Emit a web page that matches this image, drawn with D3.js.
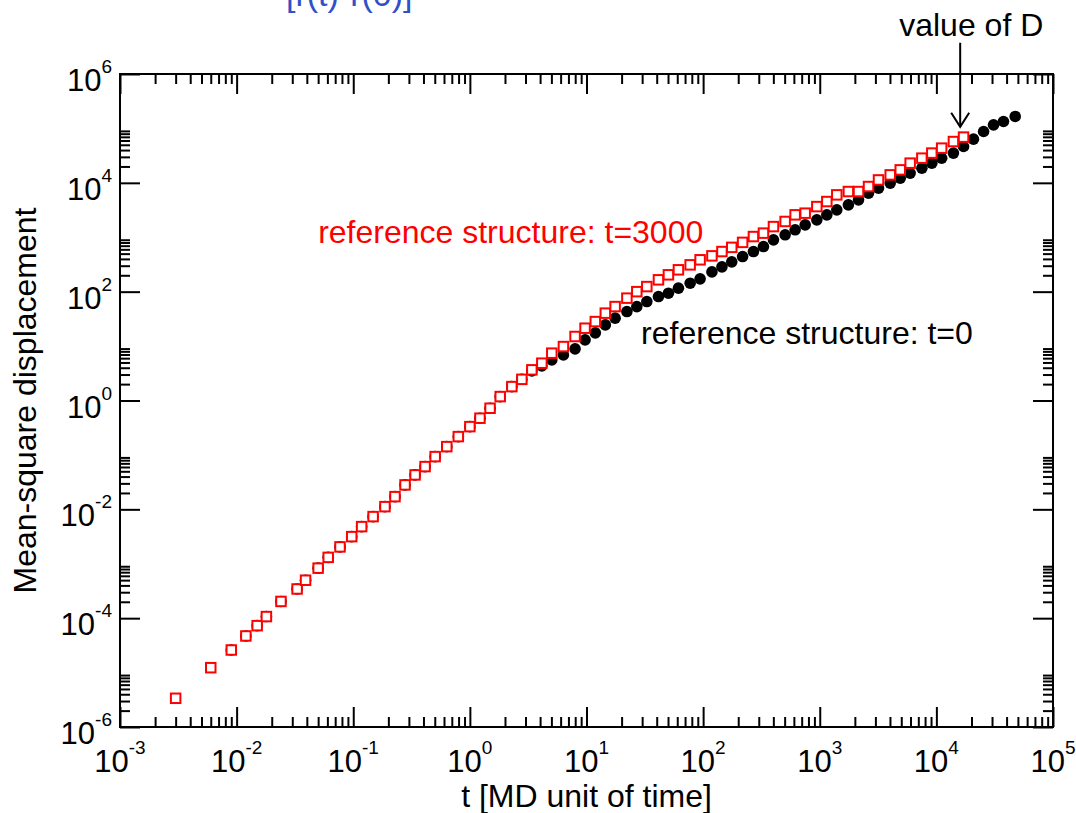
<!DOCTYPE html>
<html lang="en">
<head>
    <meta charset="UTF-8">
    <title>msd_loglog</title>
    <script src="https://d3js.org/d3.v7.min.js"></script>
    <style>
        body { margin: 0; background: #ffffff; }
        svg text { font-family: "Liberation Sans", Arial, Helvetica, sans-serif; }
    </style>
</head>

<body>
    <div id="msd_plot"></div>

    <script>
        // time points of the t=3000 run (red squares), MD units
        var t3000 = [0.003, 0.006, 0.009, 0.012, 0.015, 0.018, 0.024, 0.033, 0.039, 0.05,
            0.061, 0.077, 0.097, 0.118, 0.148, 0.187, 0.228, 0.278, 0.339, 0.413,
            0.504, 0.634, 0.796, 1.0, 1.22, 1.49, 1.82, 2.29, 2.79, 3.40,
            4.14, 5.04, 6.34, 7.98, 9.72, 11.9, 14.5, 17.6, 22.2, 27.0,
            32.9, 41.4, 50.4, 61.4, 77.4, 94.2, 119, 145, 176, 218,
            270, 329, 401, 505, 615, 750, 944, 1150, 1400, 1760,
            2150, 2620, 3190, 4020, 4900, 5960, 7510, 9140, 11100, 14000, 17100];
        var msd3000 = [3.37e-6, 1.23e-5, 2.60e-5, 4.71e-5, 7.28e-5, 1.07e-4, 2.03e-4, 3.44e-4, 4.98e-4, 8.30e-4,
            1.31e-3, 2.04e-3, 3.15e-3, 4.81e-3, 7.35e-3, 0.0112, 0.0171, 0.0281, 0.0429, 0.0610,
            0.0931, 0.142, 0.217, 0.331, 0.473, 0.721, 1.18, 1.80, 2.45, 3.66,
            4.85, 7.41, 9.80, 15.0, 21.3, 28.2, 40.3, 53.2, 76.0, 100,
            124, 165, 204, 252, 311, 385, 455, 546, 652, 805,
            1030, 1190, 1570, 1950, 2580, 2770, 3660, 4530, 6010, 6920,
            6920, 8550, 11300, 14000, 17300, 23000, 28400, 35200, 43400, 57400, 69200];

        // time points of the t=0 run (black circles)
        var t0 = [0.009, 0.012, 0.015, 0.018, 0.024, 0.033, 0.039, 0.05,
            0.061, 0.077, 0.097, 0.118, 0.148, 0.187, 0.228, 0.278, 0.339, 0.413,
            0.504, 0.634, 0.796, 1.0, 1.22, 1.49, 1.82, 2.29, 2.79, 3.40,
            4.14, 5.04, 6.34, 7.98, 9.72, 11.9, 14.5, 17.6, 22.2, 27.0,
            32.9, 41.4, 50.4, 61.4, 77.4, 94.2, 119, 145, 176, 218,
            270, 329, 401, 505, 615, 750, 944, 1150, 1400, 1760,
            2150, 2620, 3190, 4020, 4900, 5960, 7510, 9140, 11100, 14000, 17100,
            20800, 25400, 30900, 37600, 47400];
        var msd0 = [2.60e-5, 4.71e-5, 7.28e-5, 1.07e-4, 2.03e-4, 3.44e-4, 4.98e-4, 8.30e-4,
            1.31e-3, 2.04e-3, 3.15e-3, 4.81e-3, 7.35e-3, 0.0112, 0.0171, 0.0281, 0.0429, 0.0610,
            0.0931, 0.142, 0.217, 0.331, 0.473, 0.721, 1.18, 1.80, 2.45, 3.50,
            4.33, 5.57, 6.89, 8.89, 13.0, 17.5, 24.5, 32.6, 43.1, 53.2,
            65.8, 81.3, 93.8, 116, 143, 172, 231, 286, 353, 442,
            546, 675, 896, 1110, 1370, 1690, 2090, 2580, 3190, 3940,
            4870, 6470, 8000, 9880, 12200, 15100, 18600, 23000, 28400, 35200, 46500,
            63500, 87700, 116000, 134000, 166000];

        // tick label exponents
        var xTickExp = [-3, -2, -1, 0, 1, 2, 3, 4, 5];
        var yTickExp = [-6, -4, -2, 0, 2, 4, 6];

        // set the dimensions and margins of the graph
        var margin = {top: 74, right: 23, bottom: 86, left: 120},
            width = 1076 - margin.left - margin.right,
            height = 813 - margin.top - margin.bottom;

        var root = d3.select("#msd_plot")
            .append("svg")
            .attr("width", 1076)
            .attr("height", 813);

        var svg = root.append("g")
            .attr("transform", "translate(" + margin.left + "," + margin.top + ")");

        var x = d3.scaleLog().domain([1e-3, 1e5]).range([0, width]);
        var y = d3.scaleLog().domain([1e-6, 1e6]).range([height, 0]);

        // major / minor tick values
        var xMajor = xTickExp.map(function(e) { return Math.pow(10, e); });
        var yMajor = yTickExp.map(function(e) { return Math.pow(10, e); });
        var xMinor = [], yMinor = [];
        xTickExp.slice(0, -1).forEach(function(e) {
            for (var m = 2; m <= 9; m++) xMinor.push(m * Math.pow(10, e));
        });
        // y minor ticks only in the decade right above each labelled power
        yTickExp.slice(0, -1).forEach(function(e) {
            for (var m = 2; m <= 9; m++) yMinor.push(m * Math.pow(10, e));
        });

        function styleAxis(g) {
            g.select(".domain").remove();
            g.selectAll("line").attr("stroke", "#000").attr("stroke-width", 2);
        }

        // inward ticks on all four sides
        var sides = [
            {axis: d3.axisBottom, scale: x, major: xMajor, minor: xMinor, tr: "translate(0," + height + ")"},
            {axis: d3.axisTop, scale: x, major: xMajor, minor: xMinor, tr: "translate(0,0)"},
            {axis: d3.axisLeft, scale: y, major: yMajor, minor: yMinor, tr: "translate(0,0)"},
            {axis: d3.axisRight, scale: y, major: yMajor, minor: yMinor, tr: "translate(" + width + ",0)"}
        ];
        sides.forEach(function(s) {
            svg.append("g").attr("transform", s.tr)
                .call(s.axis(s.scale).tickValues(s.major).tickSize(-20).tickSizeOuter(0).tickFormat(""))
                .call(styleAxis);
            svg.append("g").attr("transform", s.tr)
                .call(s.axis(s.scale).tickValues(s.minor).tickSize(-10).tickSizeOuter(0).tickFormat(""))
                .call(styleAxis);
        });

        // frame
        svg.append("rect")
            .attr("width", width)
            .attr("height", height)
            .attr("fill", "none")
            .attr("stroke", "#000")
            .attr("stroke-width", 2);

        // tick labels 10^n
        svg.selectAll(".xlab")
            .data(xTickExp)
            .enter()
            .append("text")
            .attr("class", "xlab")
            .attr("x", function(d) { return x(Math.pow(10, d)); })
            .attr("y", height + 45)
            .attr("text-anchor", "middle")
            .each(function(d) {
                var t = d3.select(this);
                t.append("tspan").style("font-size", "31px").text("10");
                t.append("tspan").attr("dy", -18).style("font-size", "19px").text(d);
            });

        svg.selectAll(".ylab")
            .data(yTickExp)
            .enter()
            .append("text")
            .attr("class", "ylab")
            .attr("x", -8)
            .attr("y", function(d) { return y(Math.pow(10, d)) + 17; })
            .attr("text-anchor", "end")
            .each(function(d) {
                var t = d3.select(this);
                t.append("tspan").style("font-size", "31px").text("10");
                t.append("tspan").attr("dy", -18).style("font-size", "19px").text(d);
            });

        // axis titles
        svg.append("text")
            .attr("x", width / 2)
            .attr("y", height + 80)
            .attr("text-anchor", "middle")
            .style("font-size", "32px")
            .text("t [MD unit of time]");

        svg.append("text")
            .attr("transform", "translate(-84," + (height / 2) + ") rotate(-90)")
            .attr("text-anchor", "middle")
            .style("font-size", "32px")
            .text("Mean-square displacement");

        // title, cut off at the very top of the picture
        root.append("text")
            .attr("x", 286)
            .attr("y", 6)
            .style("font-size", "34px")
            .attr("fill", "#3050c8")
            .text("[r(t)-r(0)]");

        // black filled circles: reference structure t=0
        svg.selectAll(".dot0")
            .data(d3.zip(t0, msd0))
            .enter()
            .append("circle")
            .attr("class", "dot0")
            .attr("cx", function(d) { return x(d[0]); })
            .attr("cy", function(d) { return y(d[1]); })
            .attr("r", 5.8)
            .attr("fill", "#000");

        // red open squares: reference structure t=3000
        var sq = 9.5;
        svg.selectAll(".sq3000")
            .data(d3.zip(t3000, msd3000))
            .enter()
            .append("rect")
            .attr("class", "sq3000")
            .attr("x", function(d) { return x(d[0]) - sq / 2; })
            .attr("y", function(d) { return y(d[1]) - sq / 2; })
            .attr("width", sq)
            .attr("height", sq)
            .attr("fill", "#fff")
            .attr("stroke", "#ff0000")
            .attr("stroke-width", 2);

        // annotations
        svg.append("text")
            .attr("x", x(0.05))
            .attr("y", y(790))
            .attr("fill", "#ff0000")
            .style("font-size", "32px")
            .text("reference structure: t=3000");

        svg.append("text")
            .attr("x", x(29.4))
            .attr("y", y(11))
            .attr("fill", "#000")
            .style("font-size", "32px")
            .text("reference structure: t=0");

        svg.append("text")
            .attr("x", x(4800))
            .attr("y", y(5.0e6))
            .style("font-size", "32px")
            .text("value of D");

        // arrow pointing at the end of the red curve
        var ax = x(1.6e4), ay0 = y(3.75e6), ay1 = y(1.07e5);
        svg.append("line")
            .attr("x1", ax).attr("x2", ax)
            .attr("y1", ay0).attr("y2", ay1)
            .attr("stroke", "#000").attr("stroke-width", 2);
        svg.append("path")
            .attr("d", "M" + (ax - 9) + "," + (ay1 - 14) + "L" + ax + "," + ay1 + "L" + (ax + 9) + "," + (ay1 - 14))
            .attr("fill", "none")
            .attr("stroke", "#000")
            .attr("stroke-width", 2);
    </script>
</body>
</html>
